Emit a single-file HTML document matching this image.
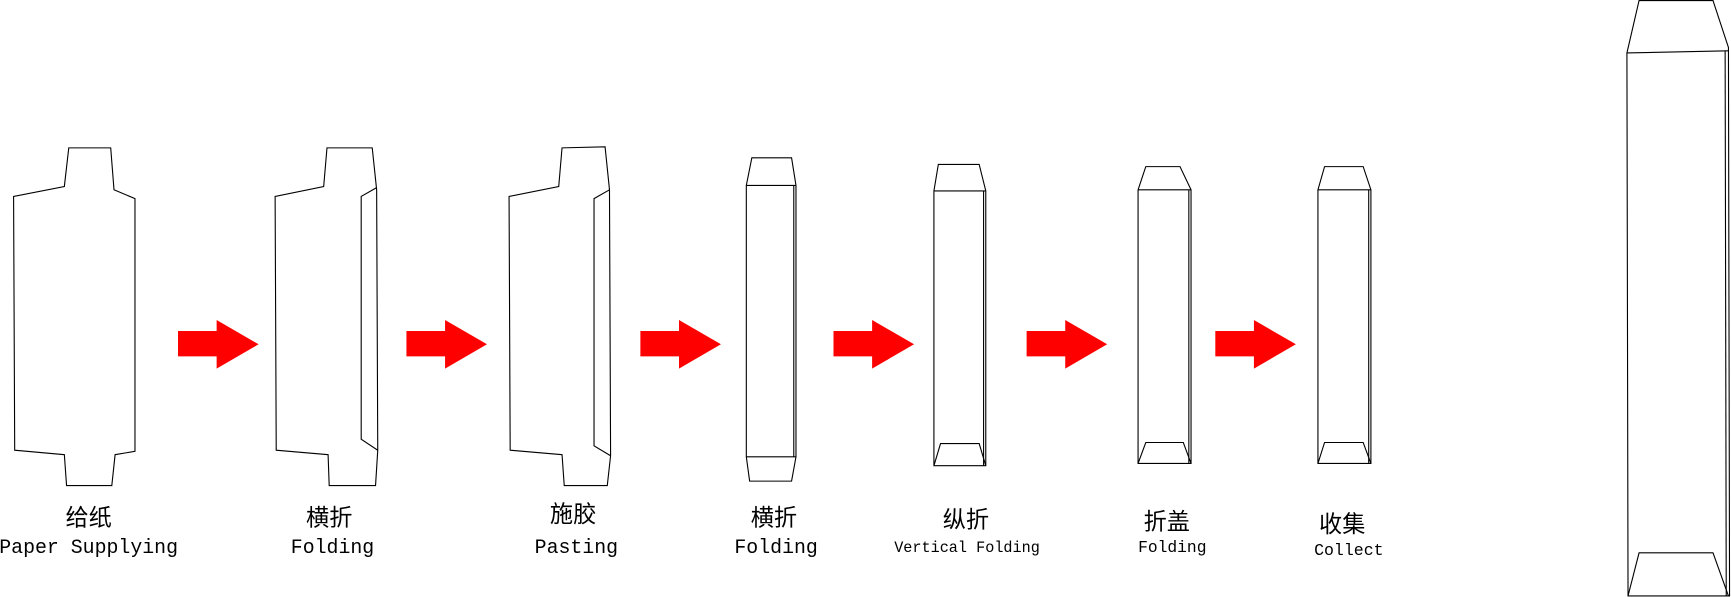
<!DOCTYPE html>
<html><head><meta charset="utf-8"><style>
html,body{margin:0;padding:0;background:#fff;}
svg{display:block}
text{font-family:"Liberation Mono","Noto Sans CJK SC",monospace;fill:#000;text-anchor:middle}
.c{font-family:"Noto Sans CJK SC","WenQuanYi Zen Hei",sans-serif;font-size:21px}
</style></head><body>
<svg width="1731" height="597" viewBox="0 0 1568 541" xmlns="http://www.w3.org/2000/svg">
<g fill="none" stroke="#000" stroke-width="1">
<polygon points="62,134 100,134 103,172 122,180 122,409 104,412 101,440 60,440 58,412 13,408 12,178 58,169"/>
<polygon points="296,134 337,134 341,172 342,408 340,440 298,440 297,412 250,408 249,178 293,169"/>
<polyline points="341,170 327,178 327,398 342,408"/>
<polygon points="509,134 548,133 552,172 553,413 550,440 511,440 509,412 462,408 461,178 506,169"/>
<polyline points="552,172 538,180 538,404 553,413"/>
<polygon points="681,143 717,143 721,168 721,414 717,436 679,436 676,414 676,168"/>
<line x1="676" y1="168" x2="721" y2="168"/><line x1="676" y1="414" x2="721" y2="414"/>
<line x1="719" y1="168" x2="719" y2="414"/>
<polygon points="850,149 887,149 893,173 893,422 846,422 846,173"/>
<line x1="846" y1="173" x2="893" y2="173"/><line x1="891" y1="173" x2="891" y2="422"/>
<polyline points="846,422 852,402 887,402 893,422"/>
<polygon points="1038,151 1069,151 1079,172 1079,420 1031,420 1031,172"/>
<line x1="1031" y1="172" x2="1079" y2="172"/><line x1="1077" y1="172" x2="1077" y2="420"/>
<polyline points="1031,420 1038,401 1072,401 1079,420"/>
<polygon points="1200,151 1235,151 1242,172 1242,420 1194,420 1194,172"/>
<line x1="1194" y1="172" x2="1242" y2="172"/><line x1="1240" y1="172" x2="1240" y2="420"/>
<polyline points="1194,420 1200,401 1235,401 1242,420"/>
<polygon points="1485,0.5 1552,0.5 1566,43 1567,540 1475,540 1474,48"/>
<line x1="1474" y1="48" x2="1566" y2="46"/><line x1="1563" y1="46" x2="1564" y2="540"/>
<polyline points="1475,540 1485,501 1552,501 1566,540"/>
</g>
<g fill="#ff0000">
<polygon points="161,300 196,300 196,290 234,312 196,334 196,323 161,323"/>
<polygon points="368,300 403,300 403,290 441,312 403,334 403,323 368,323"/>
<polygon points="580,300 615,300 615,290 653,312 615,334 615,323 580,323"/>
<polygon points="755,300 790,300 790,290 828,312 790,334 790,323 755,323"/>
<polygon points="930,300 965,300 965,290 1003,312 965,334 965,323 930,323"/>
<polygon points="1101,300 1136,300 1136,290 1174,312 1136,334 1136,323 1101,323"/>
</g>
<text class="c" x="80" y="476">给纸</text>
<text x="80" y="501" font-size="18">Paper Supplying</text>
<text class="c" x="298" y="476">横折</text>
<text x="301" y="501" font-size="18">Folding</text>
<text class="c" x="519" y="473">施胶</text>
<text x="522" y="501" font-size="18">Pasting</text>
<text class="c" x="701" y="476">横折</text>
<text x="703" y="501" font-size="18">Folding</text>
<text class="c" x="875" y="478">纵折</text>
<text x="876" y="500" font-size="14" textLength="132" lengthAdjust="spacingAndGlyphs">Vertical Folding</text>
<text class="c" x="1057" y="480">折盖</text>
<text x="1062" y="500" font-size="15" textLength="62" lengthAdjust="spacingAndGlyphs">Folding</text>
<text class="c" x="1216" y="482">收集</text>
<text x="1222" y="503" font-size="15" textLength="63" lengthAdjust="spacingAndGlyphs">Collect</text>
</svg>
</body></html>
